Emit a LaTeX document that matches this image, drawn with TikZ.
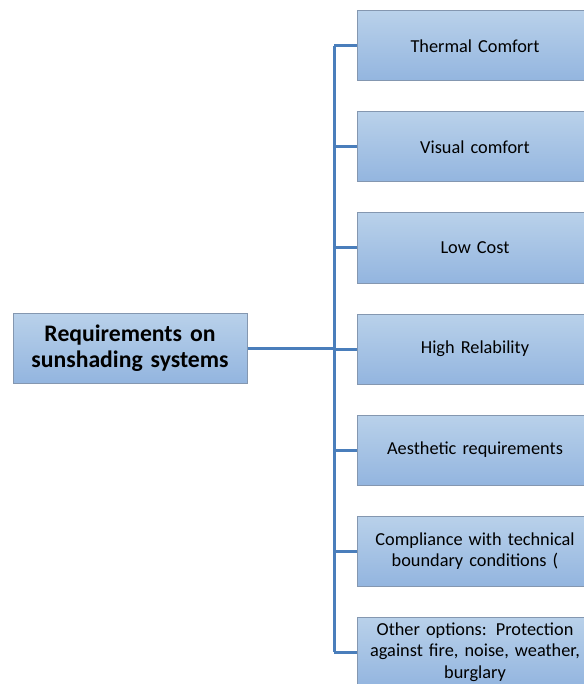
\documentclass[tikz,border=0pt]{standalone}
\usepackage{fontspec}
\setmainfont{Carlito}
\definecolor{linkblue}{HTML}{4A7EBB}
\definecolor{boxtop}{HTML}{B9D1EA}
\definecolor{boxbot}{HTML}{93B5DF}
\definecolor{boxrim}{HTML}{8497B0}
\tikzset{
  reqbox/.style={draw=boxrim, line width=1pt, top color=boxtop, bottom color=boxbot,
    minimum width=236pt, minimum height=70pt, text width=236pt, align=center,
    font=\fontsize{18.3}{21.5}\selectfont, inner sep=0pt},
  rootbox/.style={reqbox, minimum width=234pt, text width=234pt, font=\bfseries\fontsize{23.7}{26}\selectfont},
  link/.style={draw=linkblue, line width=3pt}
}
\begin{document}
\begin{tikzpicture}[x=1pt, y=-1pt]
\useasboundingbox (0,0) rectangle (583,684);
\node[rootbox] (root) at (130,348) {Requirements on\\sunshading systems};
\foreach \txt [count=\i] in {Thermal Comfort, Visual comfort, Low Cost, High Relability,
  Aesthetic requirements, Compliance with technical\\boundary conditions (,
  {Other options: Protection\\against fire, noise, weather,\\burglary}}
{
  \node[reqbox] (b\i) at (475,{46+101*(\i-1)}) {\txt};
}
\coordinate (trunk) at (334,0);
\draw[link] (root.east) -- (trunk |- root);
\draw[link] (trunk |- b1) -- (trunk |- b7);
\foreach \i in {1,...,7}
  \draw[link] (trunk |- b\i) -- (b\i.west);
\end{tikzpicture}
\end{document}
